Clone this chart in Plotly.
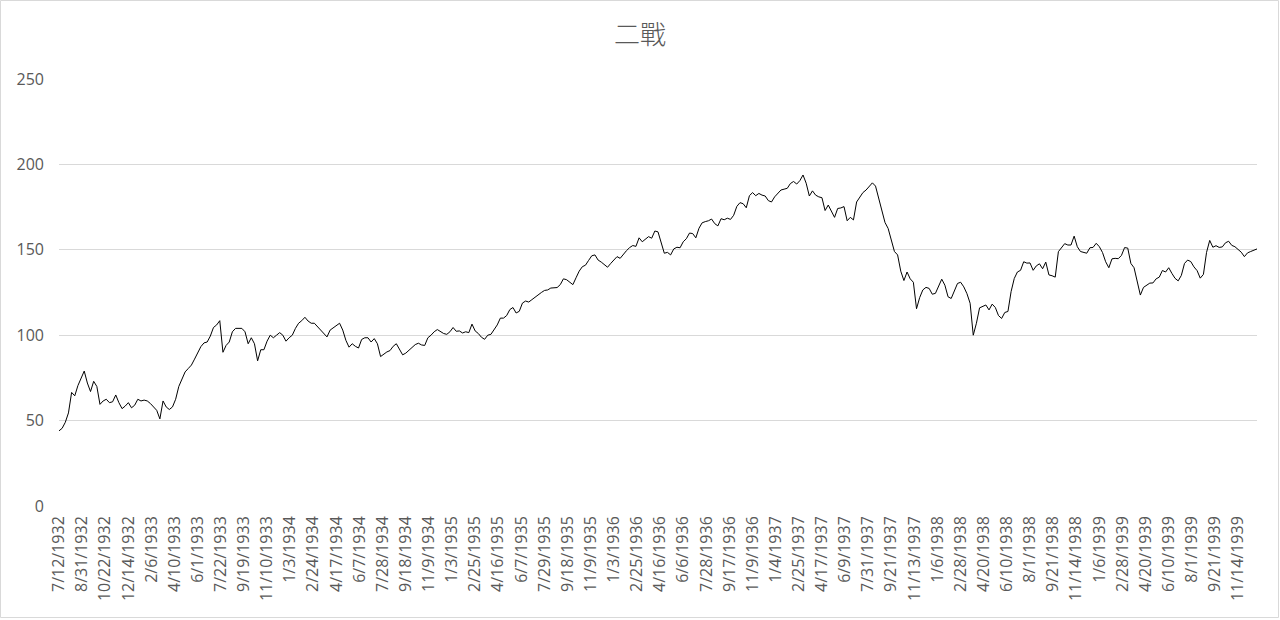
import plotly.graph_objects as go
import numpy as np

# Dow Jones Industrial Average, approx. weekly closes (every 6 trading days)
dow_1932_33 = [44, 45.5, 49, 54.5, 66.5, 64.5, 70.5, 74.5, 79, 72,
               67, 73, 70, 59.5, 61.5, 62.5, 60.5, 61, 65, 60.5,
               57, 58.5, 60.5, 57.5, 59, 62.5, 61.5, 62, 61.5, 60,
               58, 56, 51, 61.5, 58, 56.5, 58, 62.5, 70, 74,
               78.5, 80.5, 82.5, 86, 90, 93.3, 95.5, 96, 99.5, 104.5,
               106, 108.5, 90, 94, 96, 102, 104]
dow_1933_34 = [104, 104, 102, 95, 98.5, 95, 85, 91.5, 91.5, 96.5,
               100, 98.5, 100, 101.5, 100, 96.5, 98.5, 100, 104, 107,
               108.5, 110.5, 108.3, 107, 107, 105, 103.5, 101.5, 99, 103,
               104.5, 106, 107, 103, 97, 93, 95, 93.5, 92.5, 97.5,
               98.5, 98.5, 96, 98, 95, 87.5, 89, 90.2, 91, 93.5,
               95, 92, 88.5, 89.5, 91.2, 92.5]
dow_1934_35 = [94.5, 95.3, 94.3, 94, 98.5, 100, 102, 103.3, 102, 101,
               100.5, 102, 104.5, 102.3, 102.5, 101.3, 102, 101.5, 106.5, 102.5,
               101, 98.8, 97.6, 100, 100.5, 103.3, 106, 110, 110, 111.5,
               115, 116.2, 113, 114, 118.8, 120, 119.4, 120.8, 122.3, 123.3,
               125, 126.2, 126.5, 127.6, 127.8, 127.9, 129.6, 133, 132.5, 131.3,
               129.6, 133.6, 137.5, 140.1, 141, 143.8, 146.5, 147]
dow_1935_36 = [144, 142.8, 141, 139.8, 142, 144, 146, 145, 147.5, 149.5,
               151.3, 152.5, 152, 157, 154.7, 156.5, 157.7, 156.8, 161, 160.5,
               154.5, 148, 148.5, 147, 150.5, 151.5, 151.2, 154.7, 156.5, 159.8,
               159.5, 157, 162.6, 165.8, 166.5, 167, 168, 165.3, 164, 168.2,
               167.6, 168.5, 167.8, 170.2, 175.4, 177.6, 177, 174.6, 181.7, 183.5,
               181.7, 183, 182, 181.5, 178.8, 178, 181, 183, 185]
dow_1937 = [185.5, 186, 188.8, 190, 188.5, 190.5, 193.8, 189, 181.5, 184.5,
            182, 181, 180.5, 173, 176.2, 173, 169, 174.2, 174.5, 175.3,
            167, 169, 167.5, 178, 180.4, 183.5, 185, 186.8, 189.2, 187.3,
            180.7, 173.8, 166, 162.5, 156, 149, 147, 137.5, 132, 137,
            133, 131, 115.5, 122, 126.5, 128, 127.4, 124, 124.5]
dow_1938 = [129, 132.8, 129.3, 122.5, 121.5, 125.5, 130.3, 131, 128.3, 124.3,
            118.7, 100, 107, 116, 117, 117.7, 114.8, 118.2, 116.2, 111.5,
            109.8, 113.3, 113.9, 125.5, 133.2, 137, 138, 143, 142.2, 142.3,
            138, 140.6, 141.8, 138.9, 142.8, 135.3, 134.8, 134, 148.9, 151.5,
            153.6, 152.8]
dow_1939 = [152.8, 158, 151.8, 149, 148.5, 148, 151.2, 151.4, 153.8, 151.8,
            148.4, 143, 139.5, 144.7, 145, 144.8, 146.7, 151.3, 151, 142,
            139.5, 131, 123.5, 128, 129.2, 130.5, 130.6, 133, 134, 137.9,
            137, 139.5, 136.2, 133.3, 131.8, 135, 142, 144, 143.1, 140,
            137.8, 133.4, 135.6, 148.5, 155.5, 151.5, 152.4, 151.4, 151.7, 154.1,
            155, 152.6, 151.8, 149.9, 148.6, 146, 148.2, 149, 149.8, 150.5]

date_labels = ["7/12/1932", "8/31/1932", "10/22/1932", "12/14/1932", "2/6/1933", "4/10/1933",
               "6/1/1933", "7/22/1933", "9/19/1933", "11/10/1933", "1/3/1934", "2/24/1934",
               "4/17/1934", "6/7/1934", "7/28/1934", "9/18/1934", "11/9/1934", "1/3/1935",
               "2/25/1935", "4/16/1935", "6/7/1935", "7/29/1935", "9/18/1935", "11/9/1935",
               "1/3/1936", "2/25/1936", "4/16/1936", "6/6/1936", "7/28/1936", "9/17/1936",
               "11/9/1936", "1/4/1937", "2/25/1937", "4/17/1937", "6/9/1937", "7/31/1937",
               "9/21/1937", "11/13/1937", "1/6/1938", "2/28/1938", "4/20/1938", "6/10/1938",
               "8/1/1938", "9/21/1938", "11/14/1938", "1/6/1939", "2/28/1939", "4/20/1939",
               "6/10/1939", "8/1/1939", "9/21/1939", "11/14/1939"]

STEP = 6            # trading days between samples
LABEL_EVERY = 44    # trading days between axis labels

values = dow_1932_33 + dow_1933_34 + dow_1934_35 + dow_1935_36 + dow_1937 + dow_1938 + dow_1939
x = np.arange(len(values)) * STEP
tickvals = np.arange(len(date_labels)) * LABEL_EVERY

W, H = 1280, 620
ML, MR, MT, MB = 59, 23, 79, 114
GRAY = "#595959"
GRID = "#d9d9d9"

fig = go.Figure()
fig.add_trace(go.Scatter(x=x, y=values, mode="lines",
                         line=dict(color="#000000", width=1), showlegend=False,
                         hoverinfo="y"))

pw = W - ML - MR
ph = H - MT - MB
fig.add_shape(type="rect", xref="paper", yref="paper",
              x0=(0.5 - ML) / pw, x1=(W - 1.5 - ML) / pw,
              y0=-(MB - 2.5) / ph, y1=1 + (MT - 0.5) / ph,
              line=dict(color=GRID, width=1), layer="below")

fig.update_layout(
    width=W, height=H,
    margin=dict(l=ML, r=MR, t=MT, b=MB),
    paper_bgcolor="white", plot_bgcolor="white",
    title=dict(text="二戰", x=0.5, xanchor="center", y=1 - 35 / H, yanchor="middle",
               font=dict(family="Noto Sans CJK TC", size=26, color=GRAY, weight=300)),
    font=dict(family="Open Sans", color=GRAY),
    xaxis=dict(range=[0, x[-1]], tickvals=tickvals, ticktext=date_labels,
               tickangle=-90, tickfont=dict(size=16, color=GRAY, family="Open Sans"),
               showgrid=False, zeroline=False, showline=False, ticks="",
               ticklabelstandoff=6, fixedrange=True),
    yaxis=dict(range=[0, 250], dtick=50, tickfont=dict(size=16, color=GRAY, family="Open Sans"),
               showgrid=True, gridcolor=GRID, gridwidth=1, zeroline=False,
               showline=False, ticks="", ticklabelstandoff=14, fixedrange=True),
)

fig.write_html("out.html")
